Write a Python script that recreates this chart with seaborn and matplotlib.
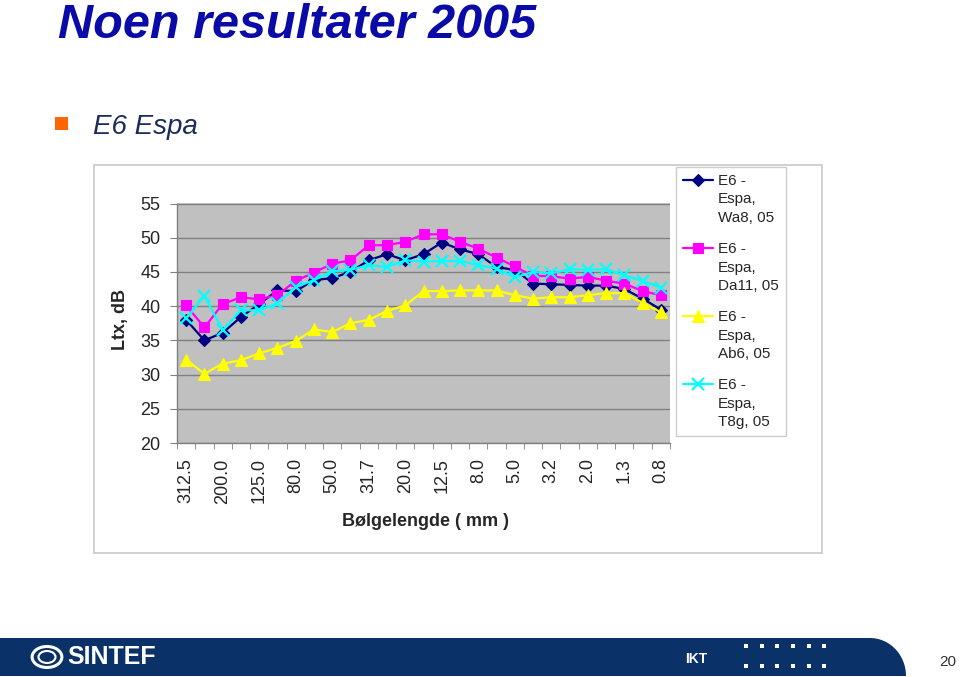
import numpy as np
import pandas as pd
import matplotlib
matplotlib.use("Agg")
import matplotlib.pyplot as plt
import seaborn as sns
from matplotlib.patches import Rectangle, Polygon, Circle

# ---------------- data ----------------
wavelengths = ["312.5", "250.0", "200.0", "160.0", "125.0", "100.0", "80.0", "63.0", "50.0",
               "40.0", "31.7", "25.0", "20.0", "16.0", "12.5", "10.0", "8.0", "6.3", "5.0",
               "4.0", "3.2", "2.5", "2.0", "1.6", "1.3", "1.0", "0.8"]
tick_labels = ["312.5", "200.0", "125.0", "80.0", "50.0", "31.7", "20.0", "12.5",
               "8.0", "5.0", "3.2", "2.0", "1.3", "0.8"]
wa8 = [38.0, 35.0, 36.1, 38.4, 40.3, 42.3, 42.2, 43.8, 44.1, 45.0, 46.7, 47.6, 46.7, 47.6,
       49.3, 48.3, 47.6, 45.7, 45.3, 43.3, 43.2, 43.1, 43.0, 43.0, 42.5, 41.1, 39.5]
da11 = [40.1, 36.9, 40.3, 41.3, 41.0, 41.6, 43.7, 44.9, 46.2, 46.7, 48.9, 48.9, 49.4, 50.5,
        50.5, 49.4, 48.4, 47.1, 45.8, 44.4, 44.4, 44.0, 44.3, 43.7, 43.3, 42.2, 41.6]
ab6 = [32.2, 30.1, 31.6, 32.1, 33.1, 33.9, 34.9, 36.6, 36.2, 37.5, 38.0, 39.3, 40.1, 42.2,
       42.2, 42.3, 42.3, 42.3, 41.6, 41.1, 41.3, 41.3, 41.6, 41.9, 41.9, 40.5, 39.1]
t8g = [38.2, 41.5, 36.5, 39.4, 39.4, 40.4, 42.8, 43.8, 45.1, 45.3, 46.0, 45.7, 46.7, 46.5,
       46.6, 46.6, 46.0, 45.5, 44.2, 45.0, 44.8, 45.4, 45.3, 45.4, 44.5, 43.7, 42.7]
series_names = ["E6 -\nEspa,\nWa8, 05", "E6 -\nEspa,\nDa11, 05", "E6 -\nEspa,\nAb6, 05", "E6 -\nEspa,\nT8g, 05"]
series_vals = [wa8, da11, ab6, t8g]
colors = ["#000080", "#FF00FF", "#FFFF00", "#00FFFF"]
markers = ["D", "s", "^", "x"]
msizes = [6.5, 7, 8, 8]

# ---------------- style ----------------
sns.set_style("white")
plt.rcParams["font.family"] = ["Liberation Sans", "DejaVu Sans"]

W, H = 960, 677
fig = plt.figure(figsize=(W / 100, H / 100), dpi=100)

def fx(x):
    return x / W

def fy(y):
    return 1 - y / H

# chart outer border
fig.add_artist(Rectangle((fx(94), fy(553)), fx(822 - 94), (553 - 165) / H,
                         transform=fig.transFigure, fill=False, edgecolor="#c8c8c8", lw=1.2))

ax = fig.add_axes([fx(177), fy(443), fx(670 - 177), (443 - 203.5) / H])
ax.set_facecolor("#C0C0C0")

pos = np.arange(len(wavelengths))
for name, vals, c, m, ms in zip(series_names, series_vals, colors, markers, msizes):
    df = pd.DataFrame({"pos": pos, "val": vals})
    sns.lineplot(data=df, x="pos", y="val", ax=ax, color=c, marker=m, markersize=ms,
                 markeredgecolor=c, markerfacecolor=c, markeredgewidth=1.6 if m == "x" else 0.8,
                 linewidth=1.6, label=name)

ax.set_xlim(-0.5, len(wavelengths) - 0.5)
ax.set_ylim(20, 55)
ax.set_yticks(np.arange(20, 56, 5))
ax.yaxis.grid(True, color="#808080", linewidth=1)
ax.xaxis.grid(False)
ax.set_axisbelow(True)
ax.set_xticks(pos[::2])
ax.set_xticklabels(tick_labels, rotation=90)
ax.set_xticks(np.arange(-0.5, len(wavelengths), 1), minor=True)
ax.tick_params(axis="x", which="major", length=0, pad=11, labelsize=13)
ax.tick_params(axis="x", which="minor", length=4, color="#808080", bottom=True)
ax.tick_params(axis="y", which="major", length=5, color="#808080", left=True, pad=7, labelsize=13)
for s in ["top", "right"]:
    ax.spines[s].set_visible(False)
for s in ["left", "bottom"]:
    ax.spines[s].set_color("#808080")
    ax.spines[s].set_linewidth(1)
ax.set_xlabel("")
ax.set_ylabel("")

fig.text(fx(120), fy(320), "Ltx, dB", rotation=90, ha="center", va="center",
         fontsize=13, fontweight="bold")
fig.text(fx(425), fy(522), "Bølgelengde ( mm )", ha="center", va="center",
         fontsize=13, fontweight="bold")

# legend
handles, labels = ax.get_legend_handles_labels()
ax.get_legend().remove()
leg = fig.legend(handles, labels, loc="upper left", bbox_to_anchor=(fx(676), fy(167)),
                 frameon=True, fancybox=False, fontsize=11, handlelength=2.0,
                 handleheight=1.1, handletextpad=0.3, labelspacing=1.1, borderpad=0.45,
                 borderaxespad=0)
leg.get_frame().set_edgecolor("#c0c0c0")
leg.get_frame().set_linewidth(1)
for t in leg.get_texts():
    t.set_linespacing(1.42)
for col in leg._legend_handle_box.get_children():
    for item in col.get_children():
        item.align = "top"

# titles
fig.text(fx(58), fy(38), "Noen resultater 2005", fontsize=35, fontweight="bold",
         fontstyle="italic", color="#0a0aa8", ha="left", va="baseline")
fig.add_artist(Rectangle((fx(55), fy(130)), fx(13), 13 / H, transform=fig.transFigure,
                         color="#FF6600", lw=0))
fig.text(fx(93), fy(134), "E6 Espa", fontsize=20, fontstyle="italic", color="#1c2c5c",
         ha="left", va="baseline")

# footer band
t = np.linspace(np.pi / 2, 0, 20)
curve = [(fx(870 + 36 * np.cos(a)), fy(676 - 38 * np.sin(a))) for a in t]
pts = [(fx(0), fy(676)), (fx(0), fy(638))] + curve
fig.add_artist(Polygon(pts, closed=True, transform=fig.transFigure, color="#0b3268", lw=0))
fig.add_artist(Circle((fx(47), fy(657)), 10.5 / H, transform=fig.transFigure, fill=False,
                      edgecolor="white", lw=2.2))
fig.add_artist(Circle((fx(47), fy(657)), 6 / H, transform=fig.transFigure, fill=False,
                      edgecolor="white", lw=1.5))
fig.text(fx(67), fy(657), "SINTEF", fontsize=18, fontweight="bold", color="white",
         ha="left", va="center")
fig.text(fx(685), fy(659), "IKT", fontsize=10, fontweight="bold", color="white",
         ha="left", va="center")
for row_y in [646, 666]:
    for cx in [746, 762, 777, 793, 809, 824]:
        fig.add_artist(Rectangle((fx(cx - 2), fy(row_y + 2)), fx(4), 4 / H,
                                 transform=fig.transFigure, color="white", lw=0))
fig.text(fx(948), fy(662), "20", fontsize=11, color="#333333", ha="center", va="center")

fig.savefig("out.png", dpi=100)
